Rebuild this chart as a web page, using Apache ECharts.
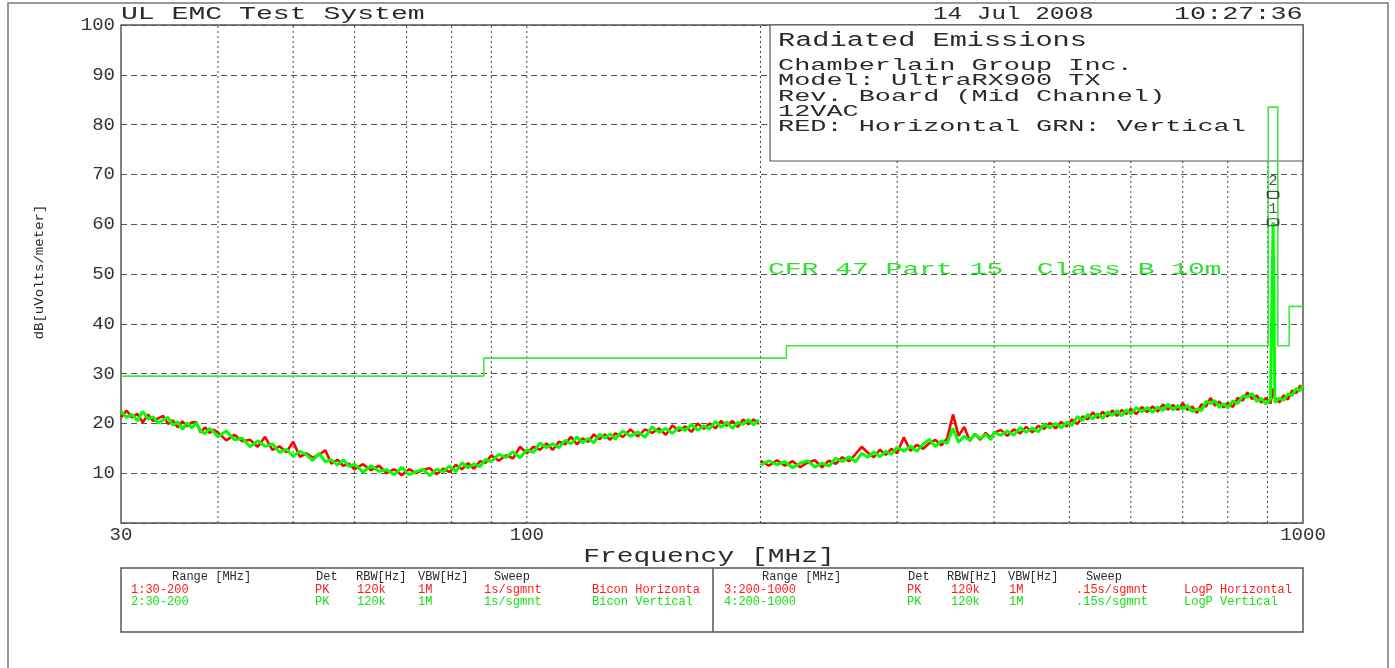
<!DOCTYPE html>
<html>
<head>
<meta charset="utf-8">
<title>Radiated Emissions</title>
<script src="https://cdn.jsdelivr.net/npm/echarts@6/dist/echarts.min.js"></script>
<style>
  html, body { margin: 0; padding: 0; background: #ffffff; }
  #chart { width: 1395px; height: 668px; }
</style>
</head>
<body>
<div id="chart"></div>
<script>
// ---- Sweep 1/2: Bicon antenna, 30-200 MHz ----
const freqLow = [
  30, 30.5, 31, 31.5, 32, 32.5, 33, 33.5, 34, 34.5, 35, 35.5, 36, 36.5, 37, 37.5, 38, 38.5, 39, 39.5,
  40, 41, 42, 43, 44, 45, 46, 47, 48, 49, 50, 51, 52, 53, 54, 55, 56, 57, 58, 59,
  60, 61.5, 63, 64.5, 66, 67.5, 69, 70.5, 72, 73.5, 75, 76.5, 78, 79.5, 81, 82.5, 84, 85.5, 87, 88.5,
  90, 92, 94, 96, 98, 100, 102, 104, 106, 108, 110, 112, 114, 116, 118, 120, 122, 124, 126, 128,
  130, 133, 136, 139, 142, 145, 148, 151, 154, 157, 160, 163, 166, 169, 172, 175, 178, 181, 184, 187,
  190, 193, 196, 199
];
const biconHorizontal = [
  21.2, 22.6, 21.2, 21.9, 20.2, 21.8, 20.5, 21.0, 21.5, 19.9, 20.6, 19.2, 20.4, 19.4, 20.2, 20.2, 18.2, 19.2, 18.1, 18.7,
  18.2, 16.6, 17.7, 16.4, 16.7, 15.3, 17.3, 14.7, 15.4, 14.2, 16.3, 13.3, 14.0, 13.1, 13.7, 14.6, 11.9, 12.7, 11.5, 11.9,
  10.8, 11.8, 10.6, 11.5, 10.0, 10.8, 9.6, 10.8, 10.0, 10.7, 11.0, 9.8, 10.9, 10.2, 11.7, 10.8, 12.0, 10.9, 12.4, 12.1,
  13.6, 12.5, 13.6, 13.0, 15.3, 14.0, 15.3, 14.7, 16.0, 14.7, 16.3, 15.8, 17.3, 15.8, 17.0, 16.3, 17.8, 16.8, 17.8, 16.7,
  18.0, 17.3, 18.8, 17.4, 18.8, 18.1, 19.0, 17.7, 19.6, 18.5, 19.4, 18.3, 20.0, 18.9, 20.0, 19.0, 20.5, 19.5, 20.5, 19.3,
  20.8, 19.8, 20.8, 19.9
];
const biconVertical = [
  22.5, 21.2, 21.8, 20.5, 22.4, 20.9, 21.3, 20.1, 20.7, 21.2, 19.6, 20.3, 18.8, 20.1, 19.1, 20.1, 18.5, 17.9, 19.0, 18.3,
  17.3, 18.5, 16.7, 17.0, 15.3, 16.5, 15.4, 15.9, 14.2, 14.8, 13.4, 14.4, 13.7, 12.6, 14.0, 12.3, 12.7, 11.6, 12.7, 11.4,
  11.8, 10.2, 11.5, 10.4, 10.7, 9.7, 11.2, 9.7, 10.3, 10.8, 9.5, 10.8, 10.3, 11.4, 10.3, 12.1, 11.1, 11.9, 11.3, 12.8,
  12.3, 13.8, 13.2, 14.3, 13.1, 14.7, 14.2, 16.1, 15.1, 15.9, 15.1, 16.6, 15.9, 17.3, 16.1, 17.0, 16.1, 17.8, 17.1, 17.9,
  16.9, 18.5, 17.4, 18.3, 17.2, 19.3, 18.2, 19.0, 18.0, 19.2, 18.6, 19.8, 18.6, 19.5, 18.9, 20.4, 19.2, 20.3, 19.0, 20.2,
  19.8, 20.8, 19.7, 20.7
];

// ---- Sweep 3/4: LogP antenna, 200-1000 MHz ----
const freqHigh = [
  200, 205, 210, 215, 220, 225, 230, 235, 240, 245, 250, 255, 260, 265, 270, 275, 280, 285, 290, 295,
  300, 306, 312, 318, 324, 330, 336, 342, 348, 354, 360, 366, 372, 378, 384, 390, 396,
  400, 408, 416, 424, 432, 440, 448, 456, 464, 472, 480, 488, 496, 504, 512, 520, 528, 536, 544, 552, 560, 568, 576, 584, 592,
  600, 610, 620, 630, 640, 650, 660, 670, 680, 690, 700, 710, 720, 730, 740, 750, 760, 770, 780, 790,
  800, 812, 824, 836, 848, 860, 872, 884, 896, 908, 915, 920, 932, 944, 956, 968, 980, 992, 1000
];
const logpHorizontal = [
  12.5, 11.5, 12.6, 11.5, 12.4, 11.2, 12.1, 12.6, 11.2, 12.5, 11.9, 13.2, 12.4, 13.8, 15.3, 14.1, 13.2, 14.7, 13.7, 14.9,
  14.0, 17.2, 14.5, 15.7, 14.9, 16.0, 16.7, 15.6, 17.0, 21.8, 17.5, 19.3, 16.5, 17.9, 16.7, 18.1, 17.1,
  18.1, 18.7, 17.5, 18.8, 18.0, 19.3, 18.2, 19.5, 18.9, 20.1, 19.0, 20.3, 19.4, 20.8, 19.9, 21.4, 20.8, 22.2, 21.1, 22.3, 21.4, 22.6, 21.5, 22.7, 21.9,
  22.9, 21.9, 23.3, 22.3, 23.4, 22.4, 23.8, 22.8, 23.7, 22.7, 24.1, 22.7, 23.4, 22.1, 23.8, 23.4, 25.1, 23.6, 24.4, 23.2,
  24.1, 23.3, 25.1, 24.6, 26.2, 24.9, 25.6, 24.2, 25.1, 24.0, 27.0, 25.2, 24.2, 25.6, 24.8, 26.6, 26.1, 27.6, 26.9
];
const logpVertical = [
  11.6, 12.5, 11.7, 12.3, 11.1, 12.0, 12.5, 11.2, 12.0, 11.4, 13.0, 12.3, 13.3, 12.3, 14.0, 13.2, 14.3, 13.3, 14.4, 13.8,
  15.2, 14.4, 15.4, 14.4, 15.8, 16.8, 15.3, 16.5, 16.0, 19.0, 16.2, 17.4, 16.6, 17.8, 17.0, 17.8, 16.7,
  18.2, 17.6, 18.5, 17.6, 19.2, 18.2, 19.1, 18.3, 19.8, 19.1, 20.0, 19.1, 20.2, 19.6, 21.4, 20.6, 21.8, 20.9, 22.0, 21.0, 22.3, 21.6, 22.6, 21.5, 22.7,
  21.9, 23.2, 22.3, 23.2, 22.2, 23.3, 22.6, 23.9, 22.7, 23.6, 22.8, 23.6, 22.4, 22.9, 22.6, 24.4, 24.0, 24.6, 23.2, 24.0,
  23.1, 24.5, 24.0, 25.5, 25.3, 26.0, 24.4, 25.0, 23.9, 24.8, 60.4, 24.2, 25.1, 24.6, 25.9, 25.6, 27.0, 26.6, 27.6
];

// ---- CFR 47 Part 15 Class B limit at 10 m (level holds until the next frequency) ----
const limitFreq = [30, 88, 216, 902, 928, 960, 1000];
const limitLevel = [29.5, 33.1, 35.6, 83.5, 35.6, 43.5, 43.5];

// ---- Peak markers ----
const markerIds = ['2', '1'];
const markerFreq = [915, 915];
const markerLevel = [65.9, 60.4];

// ---- Frequency grid lines and labelled frequencies ----
const gridFreqs = [40, 50, 60, 70, 80, 90, 100, 200, 300, 400, 500, 600, 700, 800, 900];
const freqLabels = [30, 100, 1000];

// ---- Header / annotation text ----
const headerLeft = 'UL EMC Test System';
const headerDate = '14 Jul 2008';
const headerTime = '10:27:36';
const infoTitle = 'Radiated Emissions';
const infoLines = [
  'Chamberlain Group Inc.',
  'Model: UltraRX900 TX',
  'Rev. Board (Mid Channel)',
  '12VAC',
  'RED: Horizontal GRN: Vertical'
];
const limitName = 'CFR 47 Part 15  Class B 10m';
const xName = 'Frequency [MHz]';
const yName = 'dB[uVolts/meter]';

// ---- Sweep settings table ----
const tableHeader = ['Range [MHz]', 'Det', 'RBW[Hz]', 'VBW[Hz]', 'Sweep'];
const tableRows = [
  ['1:30-200', 'PK', '120k', '1M', '1s/sgmnt', 'Bicon Horizonta'],
  ['2:30-200', 'PK', '120k', '1M', '1s/sgmnt', 'Bicon Vertical'],
  ['3:200-1000', 'PK', '120k', '1M', '.15s/sgmnt', 'LogP Horizontal'],
  ['4:200-1000', 'PK', '120k', '1M', '.15s/sgmnt', 'LogP Vertical']
];

// ---------------------------------------------------------------
const MONO = '"Liberation Mono", "DejaVu Sans Mono", monospace';
const RED = '#ff0000';
const GREEN = '#00ff00';
const TABLE_RED = '#ff1a1a';
const TABLE_GREEN = '#14e014';

function pairs(xs, ys) { return xs.map((x, i) => [x, ys[i]]); }

const chart = echarts.init(document.getElementById('chart'), null, { renderer: 'canvas' });

// Plain-text helper for the plotter-style lettering
function label(text, x, y, size, opts) {
  opts = opts || {};
  return {
    type: 'text',
    x: x, y: y,
    z: opts.z || 20,
    scaleX: opts.scaleX || 1,
    rotation: opts.rotation || 0,
    silent: true,
    style: {
      text: text,
      font: size + 'px ' + MONO,
      fill: opts.color || '#2a2a2a',
      align: opts.align || 'left',
      verticalAlign: 'middle'
    }
  };
}

const graphics = [];
// outer page frame
graphics.push({
  type: 'rect', z: 0, silent: true,
  shape: { x: 8, y: 3, width: 1380, height: 700 },
  style: { fill: 'none', stroke: '#777', lineWidth: 1.5 }
});
// header line
graphics.push(label(headerLeft, 121, 14, 19, { scaleX: 1.48 }));
graphics.push(label(headerDate, 933, 14, 19, { scaleX: 1.28 }));
graphics.push(label(headerTime, 1174, 14, 19, { scaleX: 1.41 }));

// information box in the upper right of the plot
graphics.push({
  type: 'rect', z: 5, silent: true,
  shape: { x: 770, y: 25, width: 533, height: 136 },
  style: { fill: '#ffffff', stroke: '#555', lineWidth: 1.2 }
});
graphics.push(label(infoTitle, 778, 41, 20, { scaleX: 1.43 }));
infoLines.forEach((t, i) => {
  graphics.push(label(t, 778, 66 + i * 15.2, 16, { scaleX: 1.68 }));
});

// limit line caption
graphics.push(label(limitName, 768, 270, 16, { scaleX: 1.75, color: '#2ee02e' }));

// axis titles
graphics.push(label(xName, 709, 556, 21, { scaleX: 1.33, align: 'center' }));
graphics.push(label(yName, 40, 272, 13, { scaleX: 1.08, align: 'center', rotation: Math.PI / 2 }));

// sweep settings table
graphics.push({
  type: 'rect', z: 0, silent: true,
  shape: { x: 121, y: 568, width: 1182, height: 64 },
  style: { fill: 'none', stroke: '#555', lineWidth: 1.5 }
});
graphics.push({
  type: 'line', z: 0, silent: true,
  shape: { x1: 713, y1: 568, x2: 713, y2: 632 },
  style: { stroke: '#555', lineWidth: 1.5 }
});
const headCols = [[172, 316, 356, 418, 494], [762, 908, 947, 1008, 1086]];
const rowCols = [[131, 315, 357, 418, 484, 592], [724, 907, 951, 1009, 1076, 1184]];
[0, 1].forEach(side => {
  tableHeader.forEach((t, c) => graphics.push(label(t, headCols[side][c], 577, 12)));
  [0, 1].forEach(r => {
    const row = tableRows[side * 2 + r];
    const color = r === 0 ? TABLE_RED : TABLE_GREEN;
    row.forEach((t, c) => graphics.push(label(t, rowCols[side][c], 590 + r * 11.5, 12, { color: color })));
  });
});

const option = {
  animation: false,
  backgroundColor: '#ffffff',
  grid: {
    left: 121, right: 92, top: 25, bottom: 145,
    show: true, borderColor: '#555', borderWidth: 1.5, backgroundColor: '#ffffff'
  },
  xAxis: {
    type: 'log', logBase: 10, min: 30, max: 1000,
    axisLine: { show: false },
    axisTick: { show: false },
    splitLine: { show: false },
    minorTick: { show: false },
    axisLabel: {
      margin: 2,
      fontFamily: 'Liberation Mono', fontSize: 19, color: '#333',
      showMinLabel: true, showMaxLabel: true,
      formatter: v => {
        const r = Math.round(v);
        return freqLabels.indexOf(r) >= 0 ? String(r) : '';
      }
    }
  },
  yAxis: {
    type: 'value', min: 0, max: 100, interval: 10,
    axisLine: { show: false },
    axisTick: { show: false },
    axisLabel: {
      margin: 6,
      fontFamily: 'Liberation Mono', fontSize: 19, color: '#333',
      formatter: v => (v === 0 ? '' : String(v))
    },
    splitLine: { show: true, lineStyle: { color: '#555', width: 1, type: [6, 4] } }
  },
  graphic: { elements: graphics },
  series: [
    {
      // dotted frequency grid lines
      name: 'grid',
      type: 'custom',
      z: 1,
      silent: true,
      data: gridFreqs.map(f => [f, 0]),
      encode: { x: 0, y: 1 },
      renderItem: (params, api) => {
        const f = api.value(0);
        const p0 = api.coord([f, 0]);
        const p1 = api.coord([f, 100]);
        return {
          type: 'line',
          shape: { x1: p0[0], y1: p0[1], x2: p1[0], y2: p1[1] },
          style: { stroke: '#444', lineWidth: 1, lineDash: [2, 3] }
        };
      }
    },
    {
      name: 'Bicon Horizontal', type: 'line', z: 10, showSymbol: false, symbol: 'none',
      data: pairs(freqLow, biconHorizontal),
      lineStyle: { color: RED, width: 2.6 }
    },
    {
      name: 'LogP Horizontal', type: 'line', z: 10, showSymbol: false, symbol: 'none',
      data: pairs(freqHigh, logpHorizontal),
      lineStyle: { color: RED, width: 2.6 }
    },
    {
      name: 'Bicon Vertical', type: 'line', z: 11, showSymbol: false, symbol: 'none',
      data: pairs(freqLow, biconVertical),
      lineStyle: { color: GREEN, width: 3 }
    },
    {
      name: 'LogP Vertical', type: 'line', z: 11, showSymbol: false, symbol: 'none',
      data: pairs(freqHigh, logpVertical),
      lineStyle: { color: GREEN, width: 3 }
    },
    {
      name: 'Limit', type: 'line', z: 12, step: 'end', showSymbol: false, symbol: 'none',
      data: pairs(limitFreq, limitLevel),
      lineStyle: { color: '#3ee83e', width: 1.6 }
    },
    {
      name: 'Markers', type: 'scatter', z: 13,
      data: pairs(markerFreq, markerLevel),
      symbol: 'roundRect', symbolSize: [11, 7],
      itemStyle: { color: 'rgba(0,0,0,0)', borderColor: '#222', borderWidth: 1.4 },
      label: {
        show: true, position: 'top', distance: 2,
        fontFamily: 'Liberation Mono', fontSize: 15, color: '#222',
        formatter: p => markerIds[p.dataIndex]
      }
    }
  ]
};

chart.setOption(option);
</script>
</body>
</html>
